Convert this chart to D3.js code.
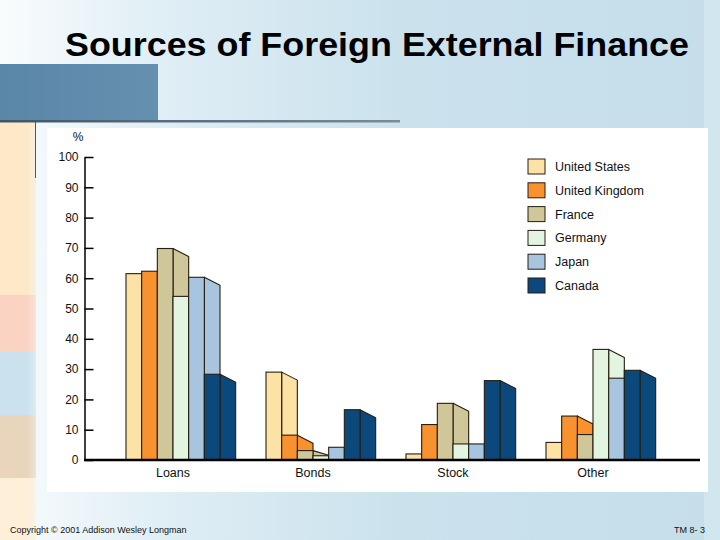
<!DOCTYPE html>
<html>
<head>
<meta charset="utf-8">
<script src="https://cdn.jsdelivr.net/npm/d3@7"></script>
<style>
  body { margin: 0; padding: 0; }
  svg { display: block; font-family: "Liberation Sans", Arial, sans-serif; }
</style>
</head>
<body>
<div id="chart"></div>
<script>
// Sources of Foreign External Finance - 3D style grouped bars
var svgWidth = 720;
var svgHeight = 540;

// data (percent)
var categories = ["Loans", "Bonds", "Stock", "Other"];
var countries = ["United States", "United Kingdom", "France", "Germany", "Japan", "Canada"];
var unitedStates = [61.5, 29, 2, 5.8];
var unitedKingdom = [62.3, 8.2, 11.7, 14.5];
var france = [69.8, 3.1, 18.7, 8.4];
var germany = [54, 1.4, 5.3, 36.5];
var japan = [60.3, 4.2, 5.3, 27];
var canada = [28.3, 16.6, 26.2, 29.6];
var yTicks = [0, 10, 20, 30, 40, 50, 60, 70, 80, 90, 100];

var seriesValues = [unitedStates, unitedKingdom, france, germany, japan, canada];
var colors = ["#fde2a6", "#f7922e", "#cfc799", "#e3f4e1", "#a7c5de", "#0b497d"];

var svg = d3.select("#chart")
  .append("svg")
  .attr("width", svgWidth)
  .attr("height", svgHeight);

// ---------- slide background ----------
var defs = svg.append("defs");
var bg = defs.append("linearGradient").attr("id", "bg");
bg.append("stop").attr("offset", "0%").attr("stop-color", "#f9fcfd");
bg.append("stop").attr("offset", "22%").attr("stop-color", "#e0eef5");
bg.append("stop").attr("offset", "55%").attr("stop-color", "#cbe2ed");
bg.append("stop").attr("offset", "100%").attr("stop-color", "#c5deea");

var blk = defs.append("linearGradient").attr("id", "blk");
blk.append("stop").attr("offset", "0%").attr("stop-color", "#5a86a7");
blk.append("stop").attr("offset", "100%").attr("stop-color", "#6690b0");

var rule = defs.append("linearGradient").attr("id", "rule");
rule.append("stop").attr("offset", "0%").attr("stop-color", "#3f5568");
rule.append("stop").attr("offset", "100%").attr("stop-color", "#7a8c99");

svg.append("rect")
  .attr("width", svgWidth).attr("height", svgHeight)
  .attr("fill", "url(#bg)");

svg.append("rect")
  .attr("x", 704).attr("y", 0).attr("width", 16).attr("height", svgHeight)
  .attr("fill", "#d2e6ef");

// left colour strip
var stripBands = [
  {y0: 122, y1: 295, c: "#fde9c8"},
  {y0: 295, y1: 352, c: "#fbd3c3"},
  {y0: 352, y1: 415, c: "#cbe2ee"},
  {y0: 415, y1: 478, c: "#e9d5bb"},
  {y0: 478, y1: 540, c: "#fdefd8"}
];
stripBands.forEach(function(b, i) {
  var g = defs.append("linearGradient").attr("id", "strip" + i);
  g.append("stop").attr("offset", "0%").attr("stop-color", b.c);
  g.append("stop").attr("offset", "75%").attr("stop-color", b.c);
  g.append("stop").attr("offset", "100%").attr("stop-color", b.c).attr("stop-opacity", 0.6);
  svg.append("rect")
    .attr("x", 0).attr("y", b.y0).attr("width", 36).attr("height", b.y1 - b.y0)
    .attr("fill", "url(#strip" + i + ")");
});

svg.append("rect")
  .attr("x", 0).attr("y", 64).attr("width", 158).attr("height", 57)
  .attr("fill", "url(#blk)");

svg.append("rect")
  .attr("x", 0).attr("y", 120).attr("width", 400).attr("height", 2.5)
  .attr("fill", "url(#rule)");

svg.append("line")
  .attr("x1", 35.5).attr("x2", 35.5).attr("y1", 122).attr("y2", 178)
  .attr("stroke", "#555").attr("stroke-width", 1);

// title
svg.append("text")
  .attr("x", 65).attr("y", 56)
  .attr("font-size", "33px")
  .attr("font-weight", "bold")
  .attr("fill", "#000")
  .attr("textLength", 624)
  .attr("lengthAdjust", "spacingAndGlyphs")
  .text("Sources of Foreign External Finance");

// footer
svg.append("text")
  .attr("x", 10).attr("y", 533)
  .attr("font-size", "9px")
  .attr("fill", "#111")
  .text("Copyright \u00A9 2001 Addison Wesley Longman");

svg.append("text")
  .attr("x", 705).attr("y", 533)
  .attr("text-anchor", "end")
  .attr("font-size", "9px")
  .attr("fill", "#111")
  .text("TM 8- 3");

// white chart panel
svg.append("rect")
  .attr("x", 47).attr("y", 128).attr("width", 661).attr("height", 364)
  .attr("fill", "#ffffff");

// ---------- chart ----------
var yScale = d3.scaleLinear().domain([0, 100]).range([460, 157]);

var xScale = d3.scaleBand()
  .domain(categories)
  .range([126, 686]);

var barScale = d3.scaleBand()
  .domain(countries)
  .range([0, 94]);

var w = barScale.bandwidth();
var chartGroup = svg.append("g");

categories.forEach(function(cat, ci) {
  var g = chartGroup.append("g")
    .attr("transform", `translate(${xScale(cat)}, 0)`);

  countries.forEach(function(country, si) {
    var v = seriesValues[si][ci];
    var x0 = barScale(country);
    var yTop = yScale(v);
    var yBase = yScale(0);
    var drop = Math.min(8, (yBase - yTop) / 2);

    // side face (partly hidden by the next bar)
    g.append("path")
      .attr("d", `M${x0 + w},${yTop} L${x0 + 2 * w},${yTop + drop} L${x0 + 2 * w},${yBase} L${x0 + w},${yBase} Z`)
      .attr("fill", colors[si])
      .attr("stroke", "#261f12")
      .attr("stroke-width", 1.1)
      .attr("stroke-linejoin", "round");

    // front face
    g.append("rect")
      .attr("x", x0)
      .attr("y", yTop)
      .attr("width", w)
      .attr("height", yBase - yTop)
      .attr("fill", colors[si])
      .attr("stroke", "#261f12")
      .attr("stroke-width", 1.1);
  });

  g.append("text")
    .attr("x", 47)
    .attr("y", 477)
    .attr("text-anchor", "middle")
    .attr("font-size", "12.5px")
    .attr("fill", "#111")
    .text(cat);
});

// y axis, ticks pointing into the plot
var leftAxis = d3.axisLeft(yScale)
  .tickValues(yTicks)
  .tickSizeInner(-9)
  .tickSizeOuter(0)
  .tickPadding(6);

var yAxis = svg.append("g")
  .attr("transform", "translate(84.5, 0)")
  .call(leftAxis);

yAxis.select(".domain").attr("stroke", "#000").attr("stroke-width", 1.5);
yAxis.selectAll(".tick line").attr("stroke", "#000").attr("stroke-width", 1.5);
yAxis.selectAll(".tick text")
  .attr("font-size", "12px")
  .attr("font-family", "Liberation Sans, Arial, sans-serif")
  .attr("fill", "#111");

svg.append("text")
  .attr("x", 78).attr("y", 141)
  .attr("text-anchor", "middle")
  .attr("font-size", "12px")
  .attr("fill", "#111")
  .text("%");

// x axis baseline
svg.append("line")
  .attr("x1", 84).attr("x2", 700)
  .attr("y1", yScale(0)).attr("y2", yScale(0))
  .attr("stroke", "#000")
  .attr("stroke-width", 2.5);

// legend
var legend = svg.append("g").attr("transform", "translate(528, 159)");
countries.forEach(function(country, i) {
  var row = legend.append("g").attr("transform", `translate(0, ${i * 23.8})`);
  row.append("rect")
    .attr("x", 0).attr("y", 0).attr("width", 17).attr("height", 15)
    .attr("fill", colors[i])
    .attr("stroke", "#261f12")
    .attr("stroke-width", 1);
  row.append("text")
    .attr("x", 27).attr("y", 12)
    .attr("font-size", "12.5px")
    .attr("fill", "#111")
    .text(country);
});
</script>
</body>
</html>
